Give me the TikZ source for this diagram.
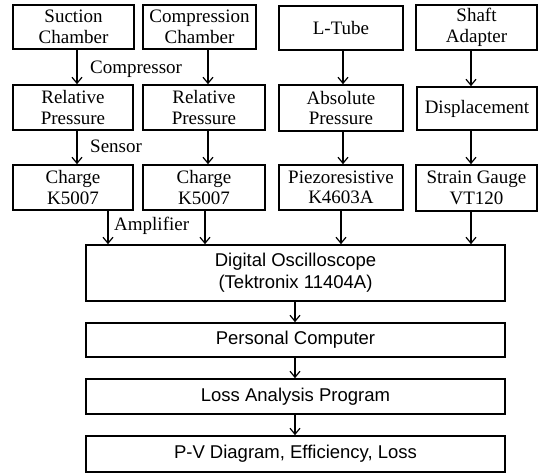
\documentclass[tikz,border=0pt]{standalone}
\usepackage{fontspec}
\setmainfont{Liberation Serif}
\newfontfamily\arialf{Liberation Sans}
\usetikzlibrary{arrows.meta}
\begin{document}
\begin{tikzpicture}[x=1pt,y=-1pt,
  tbox/.style={draw,line width=1.7pt,rectangle,inner sep=0pt,align=center,
    font=\fontsize{19}{20.5}\selectfont},
  bbox/.style={draw,line width=1.7pt,rectangle,inner sep=0pt,align=center,
    font=\arialf\fontsize{18.5}{22}\selectfont},
  arr/.style={line width=1.3pt,-{Straight Barb[length=6pt,width=10pt,line width=1.2pt]}},
  lbl/.style={inner sep=0pt,anchor=west,font=\fontsize{19}{20}\selectfont}]
\useasboundingbox (0,0) rectangle (547,475);
% row 1
\node[tbox,minimum width=121pt,minimum height=44pt] (a1) at (73.5,27) {Suction\\Chamber};
\node[tbox,minimum width=113pt,minimum height=44pt] (a2) at (199.5,27) {Compression\\Chamber};
\node[tbox,minimum width=124pt,minimum height=44pt] (a3) at (341,28) {L-Tube};
\node[tbox,minimum width=121pt,minimum height=45pt] (a4) at (476.5,27.5) {Shaft\\Adapter};
% row 2
\node[tbox,minimum width=120pt,minimum height=45pt] (b1) at (73,107.5) {Relative\\Pressure};
\node[tbox,minimum width=122pt,minimum height=45pt] (b2) at (204,107.5) {Relative\\Pressure};
\node[tbox,minimum width=124pt,minimum height=46pt] (b3) at (341,108) {Absolute\\Pressure};
\node[tbox,minimum width=120pt,minimum height=43pt] (b4) at (477,108.5) {Displacement};
% row 3
\node[tbox,minimum width=120pt,minimum height=45pt] (c1) at (73,187.5) {Charge\\K5007};
\node[tbox,minimum width=122pt,minimum height=45pt] (c2) at (204,187.5) {Charge\\K5007};
\node[tbox,minimum width=124pt,minimum height=45pt] (c3) at (341,187.5) {Piezoresistive\\K4603A};
\node[tbox,minimum width=121pt,minimum height=46pt] (c4) at (476.5,188) {Strain Gauge\\VT120};
% lower boxes
\node[bbox,minimum width=419pt,minimum height=56pt] (d) at (295.5,273) {Digital Oscilloscope\\(Tektronix 11404A)};
\node[bbox,minimum width=419pt,minimum height=34pt] (e) at (295.5,340) {Personal Computer};
\node[bbox,minimum width=419pt,minimum height=35pt] (f) at (295.5,396.5) {Loss Analysis Program};
\node[bbox,minimum width=419pt,minimum height=36pt] (g) at (295.5,454) {P-V Diagram, Efficiency, Loss};
% arrow x positions
\coordinate (x1) at (77,0);
\coordinate (x2) at (208,0);
\coordinate (x3) at (343,0);
\coordinate (x4) at (471,0);
\coordinate (y1) at (108,0);
\coordinate (y2) at (205,0);
\coordinate (y3) at (341,0);
\coordinate (y4) at (471,0);
\coordinate (xm) at (295,0);
\draw[arr] (a1.south -| x1) -- (b1.north -| x1);
\draw[arr] (a2.south -| x2) -- (b2.north -| x2);
\draw[arr] (a3.south -| x3) -- (b3.north -| x3);
\draw[arr] (a4.south -| x4) -- (b4.north -| x4);
\draw[arr] (b1.south -| x1) -- (c1.north -| x1);
\draw[arr] (b2.south -| x2) -- (c2.north -| x2);
\draw[arr] (b3.south -| x3) -- (c3.north -| x3);
\draw[arr] (b4.south -| x4) -- (c4.north -| x4);
\draw[arr] (c1.south -| y1) -- (d.north -| y1);
\draw[arr] (c2.south -| y2) -- (d.north -| y2);
\draw[arr] (c3.south -| y3) -- (d.north -| y3);
\draw[arr] (c4.south -| y4) -- (d.north -| y4);
\draw[arr] (d.south -| xm) -- (e.north -| xm);
\draw[arr] (e.south -| xm) -- (f.north -| xm);
\draw[arr] (f.south -| xm) -- (g.north -| xm);
% labels
\node[lbl] (l1) at (90,69) {Compressor};
\node[lbl] (l2) at (90,146) {Sensor};
\node[lbl] (l3) at (114,226) {Amplifier};
\end{tikzpicture}
\end{document}
